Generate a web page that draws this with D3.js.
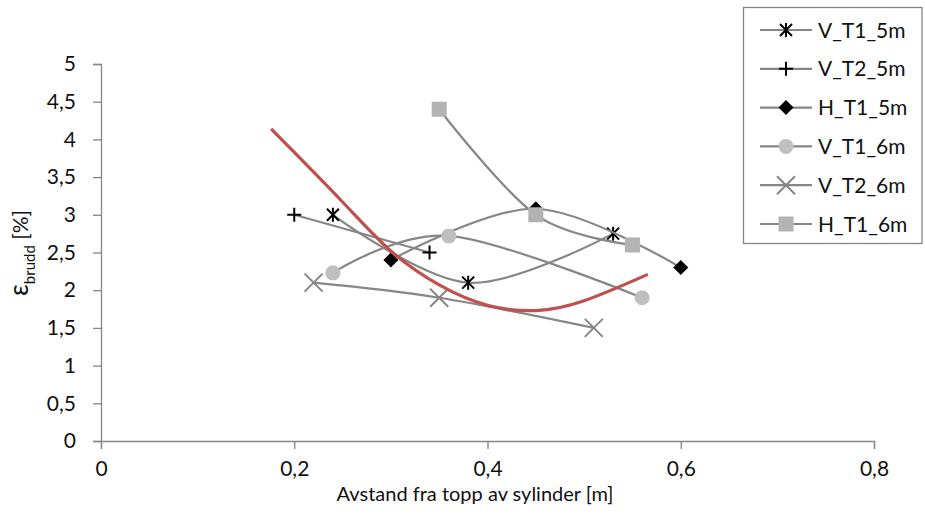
<!DOCTYPE html>
<html>
<head>
<meta charset="utf-8">
<script src="https://cdn.jsdelivr.net/npm/d3@7"></script>
<style>
  body { margin: 0; background: #fff; }
  svg { font-family: Lato, "Open Sans", sans-serif; }
</style>
</head>
<body>
<svg id="chart" width="925" height="515"></svg>
<script>
// series: [x, y]
var names = ["V_T1_5m", "V_T2_5m", "H_T1_5m", "V_T1_6m", "V_T2_6m", "H_T1_6m"];
var vT1_5m = [[0.24, 3.0], [0.38, 2.1], [0.53, 2.75]];
var vT2_5m = [[0.2, 3.0], [0.34, 2.5]];
var hT1_5m = [[0.3, 2.4], [0.45, 3.08], [0.6, 2.3]];
var vT1_6m = [[0.24, 2.23], [0.36, 2.72], [0.56, 1.9]];
var vT2_6m = [[0.22, 2.1], [0.35, 1.9], [0.51, 1.5]];
var hT1_6m = [[0.35, 4.4], [0.45, 3.0], [0.55, 2.6]];

// trend curve (red), sampled along the drawn line
var trendX = [0.176, 0.25, 0.3, 0.35, 0.4, 0.45, 0.5, 0.566];
var trendY = [4.14, 3.17, 2.52, 2.07, 1.8, 1.73, 1.86, 2.21];

var xTicks = [0, 0.2, 0.4, 0.6, 0.8];
var yTicks = [0, 0.5, 1, 1.5, 2, 2.5, 3, 3.5, 4, 4.5, 5];

var seriesData = [vT1_5m, vT2_5m, hT1_5m, vT1_6m, vT2_6m, hT1_6m];
var markers = ["asterisk", "plus", "diamond", "circle", "cross", "square"];
var markerColor = ["#000", "#000", "#000", "#bfbfbf", "#868686", "#b3b3b3"];
var lineColor = "#868686";
var fmt = function(v) { return String(v).replace(".", ","); };

var svg = d3.select("#chart");
var x = d3.scaleLinear().domain([0, 0.8]).range([101, 874]);
var y = d3.scaleLinear().domain([0, 5]).range([441, 64]);

// axes
var yAxis = svg.append("g")
  .attr("transform", "translate(101,0)")
  .call(d3.axisLeft(y).tickValues(yTicks).tickSizeOuter(0).tickSize(8).tickPadding(17).tickFormat(fmt));
var xAxis = svg.append("g")
  .attr("transform", "translate(0,441)")
  .call(d3.axisBottom(x).tickValues(xTicks).tickSizeOuter(0).tickSize(8).tickPadding(12).tickFormat(fmt));
[xAxis, yAxis].forEach(function(a) {
  a.selectAll("path, line").attr("stroke", lineColor).attr("stroke-width", 1.3);
  a.selectAll("text").attr("fill", "#111").style("font-size", "21px").style("font-family", "Lato, sans-serif");
});

svg.append("text")
  .attr("x", 475).attr("y", 501)
  .attr("text-anchor", "middle")
  .style("font-size", "20px").attr("fill", "#111")
  .text("Avstand fra topp av sylinder [m]");

var yl = svg.append("text")
  .attr("transform", "translate(28,253) rotate(-90)")
  .attr("text-anchor", "middle")
  .style("font-size", "21px").attr("fill", "#111");
yl.append("tspan").style("font-size", "26px").text("ε");
yl.append("tspan").attr("dy", 7).style("font-size", "15px").text("brudd");
yl.append("tspan").attr("dy", -7).text(" [%]");

// markers
function drawMarker(g, type, cx, cy, col) {
  var s = 6;
  if (type == "asterisk") {
    var p = "M" + (cx - s) + "," + (cy - s) + "L" + (cx + s) + "," + (cy + s) +
            "M" + (cx - s) + "," + (cy + s) + "L" + (cx + s) + "," + (cy - s) +
            "M" + cx + "," + (cy - s - 1) + "L" + cx + "," + (cy + s + 1);
    g.append("path").attr("d", p).attr("stroke", col).attr("stroke-width", 2).attr("fill", "none");
  } else if (type == "plus") {
    var p = "M" + (cx - 7) + "," + cy + "L" + (cx + 7) + "," + cy +
            "M" + cx + "," + (cy - 7) + "L" + cx + "," + (cy + 7);
    g.append("path").attr("d", p).attr("stroke", col).attr("stroke-width", 2).attr("fill", "none");
  } else if (type == "diamond") {
    g.append("path").attr("d", "M" + cx + "," + (cy - 7.5) + "L" + (cx + 7.5) + "," + cy +
      "L" + cx + "," + (cy + 7.5) + "L" + (cx - 7.5) + "," + cy + "Z").attr("fill", col);
  } else if (type == "circle") {
    g.append("circle").attr("cx", cx).attr("cy", cy).attr("r", 7.5).attr("fill", col);
  } else if (type == "cross") {
    var p = "M" + (cx - 9) + "," + (cy - 9) + "L" + (cx + 9) + "," + (cy + 9) +
            "M" + (cx - 9) + "," + (cy + 9) + "L" + (cx + 9) + "," + (cy - 9);
    g.append("path").attr("d", p).attr("stroke", col).attr("stroke-width", 2).attr("fill", "none");
  } else if (type == "square") {
    g.append("rect").attr("x", cx - 7.5).attr("y", cy - 7.5).attr("width", 15).attr("height", 15).attr("fill", col);
  }
}

var line = d3.line()
  .x(function(d) { return x(d[0]); })
  .y(function(d) { return y(d[1]); })
  .curve(d3.curveCardinal.tension(0));

var plot = svg.append("g");
seriesData.forEach(function(s, i) {
  var g = plot.append("g");
  g.append("path").attr("d", line(s))
    .attr("fill", "none").attr("stroke", lineColor).attr("stroke-width", 2.2);
  s.forEach(function(d) { drawMarker(g, markers[i], x(d[0]), y(d[1]), markerColor[i]); });
});

// red trend curve
var trend = trendX.map(function(v, i) { return [v, trendY[i]]; });
plot.append("path")
  .attr("d", d3.line().x(function(d) { return x(d[0]); }).y(function(d) { return y(d[1]); })
    .curve(d3.curveNatural)(trend))
  .attr("fill", "none").attr("stroke", "#c0504d").attr("stroke-width", 3.2);

// legend
var legend = svg.append("g");
legend.append("rect")
  .attr("x", 743.5).attr("y", 7.5).attr("width", 178.5).attr("height", 236)
  .attr("fill", "#fff").attr("stroke", "#868686").attr("stroke-width", 1.3);
names.forEach(function(n, i) {
  var ly = 30 + i * 38.8;
  var g = legend.append("g");
  g.append("line").attr("x1", 760).attr("x2", 812).attr("y1", ly).attr("y2", ly)
    .attr("stroke", lineColor).attr("stroke-width", 2.2);
  drawMarker(g, markers[i], 786, ly, markerColor[i]);
  g.append("text").attr("x", 818).attr("y", ly).attr("dy", "0.36em")
    .style("font-size", "21px").attr("fill", "#111").text(n);
});
</script>
</body>
</html>
